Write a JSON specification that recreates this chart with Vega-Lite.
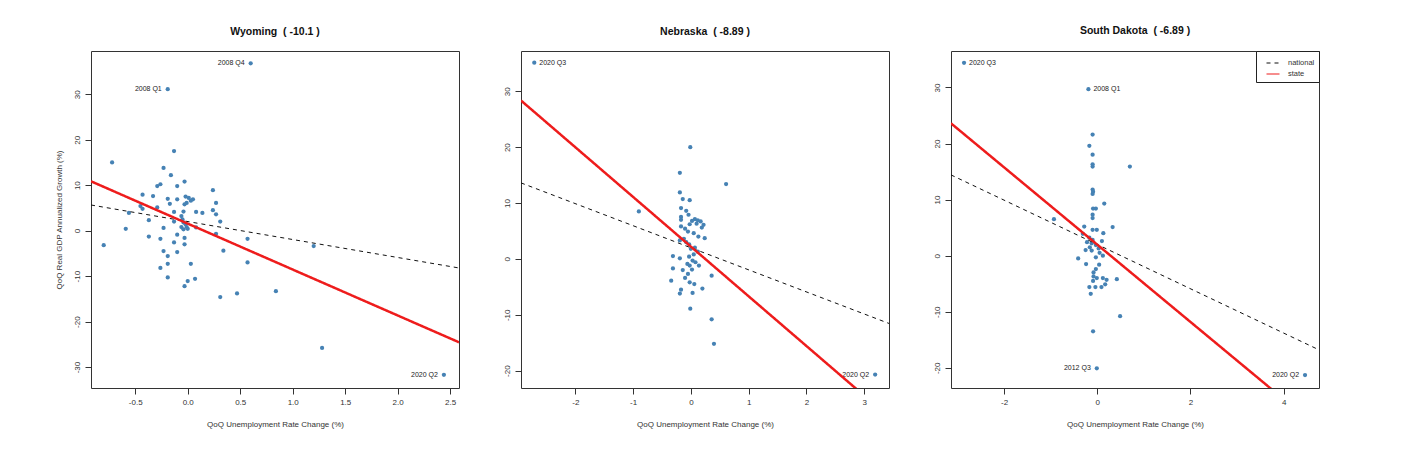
{
  "$schema": "https://vega.github.io/schema/vega-lite/v6.json",
  "description": "QoQ real GDP growth vs QoQ unemployment rate change, three states, with national and state fit lines.",
  "padding": {"left": 54, "top": 25, "right": 5, "bottom": 5},
  "bounds": "flush",
  "spacing": 62,
  "datasets": {
    "points": [
      {"state": "Wyoming", "x": 0.60, "y": 36.8, "label": "2008 Q4"},
      {"state": "Wyoming", "x": -0.19, "y": 31.1, "label": "2008 Q1"},
      {"state": "Wyoming", "x": 2.44, "y": -31.7, "label": "2020 Q2"},
      {"state": "Wyoming", "x": 1.28, "y": -25.8},
      {"state": "Wyoming", "x": 1.20, "y": -3.4},
      {"state": "Wyoming", "x": -0.13, "y": 17.5},
      {"state": "Wyoming", "x": -0.72, "y": 15.0},
      {"state": "Wyoming", "x": -0.23, "y": 13.8},
      {"state": "Wyoming", "x": -0.16, "y": 12.2},
      {"state": "Wyoming", "x": -0.26, "y": 10.2},
      {"state": "Wyoming", "x": -0.29, "y": 9.8},
      {"state": "Wyoming", "x": -0.03, "y": 10.8},
      {"state": "Wyoming", "x": -0.10, "y": 9.8},
      {"state": "Wyoming", "x": 0.24, "y": 8.9},
      {"state": "Wyoming", "x": -0.43, "y": 7.9},
      {"state": "Wyoming", "x": -0.33, "y": 7.6},
      {"state": "Wyoming", "x": -0.19, "y": 7.0},
      {"state": "Wyoming", "x": -0.10, "y": 6.9},
      {"state": "Wyoming", "x": -0.02, "y": 7.5},
      {"state": "Wyoming", "x": 0.01, "y": 7.2},
      {"state": "Wyoming", "x": 0.03, "y": 6.6},
      {"state": "Wyoming", "x": -0.01, "y": 6.1},
      {"state": "Wyoming", "x": 0.05, "y": 6.9},
      {"state": "Wyoming", "x": 0.27, "y": 6.1},
      {"state": "Wyoming", "x": -0.45, "y": 5.4},
      {"state": "Wyoming", "x": -0.43, "y": 4.8},
      {"state": "Wyoming", "x": -0.29, "y": 5.1},
      {"state": "Wyoming", "x": -0.17, "y": 5.9},
      {"state": "Wyoming", "x": -0.03, "y": 5.8},
      {"state": "Wyoming", "x": -0.56, "y": 3.9},
      {"state": "Wyoming", "x": -0.13, "y": 4.1},
      {"state": "Wyoming", "x": -0.04, "y": 4.2},
      {"state": "Wyoming", "x": 0.08, "y": 4.1},
      {"state": "Wyoming", "x": 0.14, "y": 3.9},
      {"state": "Wyoming", "x": 0.24, "y": 4.5},
      {"state": "Wyoming", "x": 0.27, "y": 3.6},
      {"state": "Wyoming", "x": 0.31, "y": 2.0},
      {"state": "Wyoming", "x": -0.37, "y": 2.3},
      {"state": "Wyoming", "x": -0.13, "y": 2.0},
      {"state": "Wyoming", "x": -0.06, "y": 3.2},
      {"state": "Wyoming", "x": -0.05, "y": 2.5},
      {"state": "Wyoming", "x": -0.04, "y": 1.8},
      {"state": "Wyoming", "x": -0.02, "y": 1.4},
      {"state": "Wyoming", "x": -0.01, "y": 0.8},
      {"state": "Wyoming", "x": -0.06, "y": 0.8},
      {"state": "Wyoming", "x": -0.04, "y": 0.3},
      {"state": "Wyoming", "x": 0.00, "y": 0.4},
      {"state": "Wyoming", "x": 0.08, "y": 0.7},
      {"state": "Wyoming", "x": -0.59, "y": 0.4},
      {"state": "Wyoming", "x": -0.80, "y": -3.2},
      {"state": "Wyoming", "x": -0.23, "y": 0.6},
      {"state": "Wyoming", "x": -0.37, "y": -1.3},
      {"state": "Wyoming", "x": -0.26, "y": -1.8},
      {"state": "Wyoming", "x": -0.10, "y": -0.9},
      {"state": "Wyoming", "x": -0.03, "y": -1.6},
      {"state": "Wyoming", "x": -0.13, "y": -2.6},
      {"state": "Wyoming", "x": -0.03, "y": -3.0},
      {"state": "Wyoming", "x": 0.27, "y": -0.7},
      {"state": "Wyoming", "x": 0.57, "y": -1.8},
      {"state": "Wyoming", "x": -0.23, "y": -4.5},
      {"state": "Wyoming", "x": -0.10, "y": -4.7},
      {"state": "Wyoming", "x": 0.34, "y": -4.4},
      {"state": "Wyoming", "x": -0.19, "y": -5.6},
      {"state": "Wyoming", "x": -0.19, "y": -7.3},
      {"state": "Wyoming", "x": 0.03, "y": -7.3},
      {"state": "Wyoming", "x": 0.57, "y": -7.0},
      {"state": "Wyoming", "x": -0.26, "y": -8.2},
      {"state": "Wyoming", "x": -0.19, "y": -10.3},
      {"state": "Wyoming", "x": 0.00, "y": -11.1},
      {"state": "Wyoming", "x": 0.07, "y": -10.6},
      {"state": "Wyoming", "x": -0.03, "y": -12.2},
      {"state": "Wyoming", "x": 0.31, "y": -14.6},
      {"state": "Wyoming", "x": 0.47, "y": -13.8},
      {"state": "Wyoming", "x": 0.84, "y": -13.3},
      {"state": "Nebraska", "x": -2.71, "y": 35.1, "label": "2020 Q3"},
      {"state": "Nebraska", "x": 3.19, "y": -20.7, "label": "2020 Q2"},
      {"state": "Nebraska", "x": -0.01, "y": 20.0},
      {"state": "Nebraska", "x": -0.19, "y": 15.4},
      {"state": "Nebraska", "x": 0.61, "y": 13.4},
      {"state": "Nebraska", "x": -0.19, "y": 11.9},
      {"state": "Nebraska", "x": -0.14, "y": 10.7},
      {"state": "Nebraska", "x": -0.02, "y": 10.5},
      {"state": "Nebraska", "x": -0.90, "y": 8.5},
      {"state": "Nebraska", "x": -0.17, "y": 9.1},
      {"state": "Nebraska", "x": -0.08, "y": 8.6},
      {"state": "Nebraska", "x": -0.04, "y": 7.9},
      {"state": "Nebraska", "x": -0.17, "y": 7.5},
      {"state": "Nebraska", "x": -0.17, "y": 7.0},
      {"state": "Nebraska", "x": 0.02, "y": 6.8},
      {"state": "Nebraska", "x": 0.07, "y": 7.1},
      {"state": "Nebraska", "x": 0.12, "y": 6.9},
      {"state": "Nebraska", "x": 0.17, "y": 6.7},
      {"state": "Nebraska", "x": 0.22, "y": 6.1},
      {"state": "Nebraska", "x": 0.19, "y": 5.6},
      {"state": "Nebraska", "x": 0.10, "y": 6.3},
      {"state": "Nebraska", "x": -0.02, "y": 6.2},
      {"state": "Nebraska", "x": -0.17, "y": 5.8},
      {"state": "Nebraska", "x": -0.10, "y": 5.4},
      {"state": "Nebraska", "x": -0.05, "y": 4.9},
      {"state": "Nebraska", "x": 0.05, "y": 4.6},
      {"state": "Nebraska", "x": 0.13, "y": 4.0},
      {"state": "Nebraska", "x": 0.24, "y": 3.7},
      {"state": "Nebraska", "x": -0.12, "y": 3.6},
      {"state": "Nebraska", "x": -0.19, "y": 3.3},
      {"state": "Nebraska", "x": -0.08, "y": 3.0},
      {"state": "Nebraska", "x": -0.03, "y": 2.6},
      {"state": "Nebraska", "x": 0.00, "y": 1.8},
      {"state": "Nebraska", "x": 0.07, "y": 2.0},
      {"state": "Nebraska", "x": 0.12, "y": 1.3},
      {"state": "Nebraska", "x": 0.05, "y": 0.8},
      {"state": "Nebraska", "x": -0.31, "y": 0.5},
      {"state": "Nebraska", "x": -0.19, "y": 0.1},
      {"state": "Nebraska", "x": -0.03, "y": 0.4},
      {"state": "Nebraska", "x": 0.03, "y": -0.3},
      {"state": "Nebraska", "x": 0.08, "y": -0.6},
      {"state": "Nebraska", "x": -0.06, "y": -0.9},
      {"state": "Nebraska", "x": -0.02, "y": -1.2},
      {"state": "Nebraska", "x": 0.14, "y": -1.2},
      {"state": "Nebraska", "x": -0.31, "y": -1.7},
      {"state": "Nebraska", "x": -0.14, "y": -2.0},
      {"state": "Nebraska", "x": 0.02, "y": -1.9},
      {"state": "Nebraska", "x": -0.05, "y": -2.7},
      {"state": "Nebraska", "x": 0.36, "y": -3.0},
      {"state": "Nebraska", "x": -0.10, "y": -3.4},
      {"state": "Nebraska", "x": -0.34, "y": -3.9},
      {"state": "Nebraska", "x": -0.02, "y": -4.2},
      {"state": "Nebraska", "x": 0.06, "y": -4.5},
      {"state": "Nebraska", "x": 0.20, "y": -5.3},
      {"state": "Nebraska", "x": -0.17, "y": -5.5},
      {"state": "Nebraska", "x": -0.19, "y": -6.2},
      {"state": "Nebraska", "x": 0.03, "y": -6.1},
      {"state": "Nebraska", "x": -0.01, "y": -8.9},
      {"state": "Nebraska", "x": 0.36, "y": -10.8},
      {"state": "Nebraska", "x": 0.40, "y": -15.2},
      {"state": "South Dakota", "x": -2.86, "y": 34.4, "label": "2020 Q3"},
      {"state": "South Dakota", "x": -0.19, "y": 29.7, "label": "2008 Q1"},
      {"state": "South Dakota", "x": -0.01, "y": -20.1, "label": "2012 Q3"},
      {"state": "South Dakota", "x": 4.46, "y": -21.3, "label": "2020 Q2"},
      {"state": "South Dakota", "x": -0.10, "y": 21.6},
      {"state": "South Dakota", "x": -0.17, "y": 19.6},
      {"state": "South Dakota", "x": -0.10, "y": 18.0},
      {"state": "South Dakota", "x": -0.10, "y": 16.3},
      {"state": "South Dakota", "x": -0.10, "y": 15.9},
      {"state": "South Dakota", "x": 0.70, "y": 15.9},
      {"state": "South Dakota", "x": -0.10, "y": 11.8},
      {"state": "South Dakota", "x": -0.09, "y": 11.4},
      {"state": "South Dakota", "x": -0.10, "y": 11.0},
      {"state": "South Dakota", "x": 0.15, "y": 9.3},
      {"state": "South Dakota", "x": -0.09, "y": 8.4},
      {"state": "South Dakota", "x": -0.03, "y": 8.4},
      {"state": "South Dakota", "x": -0.10, "y": 7.3},
      {"state": "South Dakota", "x": -0.10, "y": 6.7},
      {"state": "South Dakota", "x": -0.93, "y": 6.5},
      {"state": "South Dakota", "x": -0.28, "y": 5.2},
      {"state": "South Dakota", "x": 0.33, "y": 5.1},
      {"state": "South Dakota", "x": -0.10, "y": 4.6},
      {"state": "South Dakota", "x": -0.01, "y": 4.6},
      {"state": "South Dakota", "x": -0.31, "y": 3.9},
      {"state": "South Dakota", "x": 0.13, "y": 4.0},
      {"state": "South Dakota", "x": -0.17, "y": 3.2},
      {"state": "South Dakota", "x": -0.10, "y": 2.8},
      {"state": "South Dakota", "x": -0.22, "y": 2.4},
      {"state": "South Dakota", "x": -0.12, "y": 2.2},
      {"state": "South Dakota", "x": -0.03, "y": 1.9},
      {"state": "South Dakota", "x": 0.03, "y": 1.3},
      {"state": "South Dakota", "x": 0.10, "y": 2.6},
      {"state": "South Dakota", "x": -0.16, "y": 1.5},
      {"state": "South Dakota", "x": -0.25, "y": 1.0},
      {"state": "South Dakota", "x": -0.12, "y": 0.9},
      {"state": "South Dakota", "x": 0.05, "y": 0.5},
      {"state": "South Dakota", "x": -0.41, "y": -0.5},
      {"state": "South Dakota", "x": -0.03, "y": -0.3},
      {"state": "South Dakota", "x": 0.12, "y": 0.0},
      {"state": "South Dakota", "x": -0.24, "y": -1.5},
      {"state": "South Dakota", "x": 0.04, "y": -1.6},
      {"state": "South Dakota", "x": -0.03, "y": -2.4},
      {"state": "South Dakota", "x": -0.08, "y": -3.0},
      {"state": "South Dakota", "x": -0.08, "y": -3.7},
      {"state": "South Dakota", "x": -0.01, "y": -4.0},
      {"state": "South Dakota", "x": -0.09, "y": -4.5},
      {"state": "South Dakota", "x": 0.12, "y": -4.0},
      {"state": "South Dakota", "x": 0.20, "y": -4.3},
      {"state": "South Dakota", "x": 0.42, "y": -4.2},
      {"state": "South Dakota", "x": -0.17, "y": -5.6},
      {"state": "South Dakota", "x": -0.04, "y": -5.6},
      {"state": "South Dakota", "x": 0.09, "y": -5.6},
      {"state": "South Dakota", "x": 0.17, "y": -5.1},
      {"state": "South Dakota", "x": -0.14, "y": -6.8},
      {"state": "South Dakota", "x": 0.49, "y": -10.8},
      {"state": "South Dakota", "x": -0.09, "y": -13.5}
    ],
    "fits": [
      {"state": "Wyoming", "series": "national", "x": -0.921, "y": 5.64},
      {"state": "Wyoming", "series": "national", "x": 2.584, "y": -8.21},
      {"state": "Wyoming", "series": "state", "x": -0.921, "y": 10.85},
      {"state": "Wyoming", "series": "state", "x": 2.584, "y": -24.55},
      {"state": "Nebraska", "series": "national", "x": -2.94, "y": 13.6},
      {"state": "Nebraska", "series": "national", "x": 3.43, "y": -11.55},
      {"state": "Nebraska", "series": "state", "x": -2.94, "y": 28.34},
      {"state": "Nebraska", "series": "state", "x": 3.43, "y": -28.29},
      {"state": "South Dakota", "series": "national", "x": -3.14, "y": 14.4},
      {"state": "South Dakota", "series": "national", "x": 4.76, "y": -16.8},
      {"state": "South Dakota", "series": "state", "x": -3.14, "y": 23.6},
      {"state": "South Dakota", "series": "state", "x": 4.76, "y": -30.83}
    ]
  },
  "hconcat": [
    {
      "width": 368,
      "height": 337,
      "title": "Wyoming \u00a0( -10.1 )",
      "encoding": {
        "x": {"field": "x", "type": "quantitative", "scale": {"domain": [-0.921, 2.584], "nice": false, "zero": false},
              "axis": {"values": [-0.5, 0, 0.5, 1, 1.5, 2, 2.5], "format": ".1f", "title": "QoQ Unemployment Rate Change (%)"}},
        "y": {"field": "y", "type": "quantitative", "scale": {"domain": [-34.6, 39.5], "nice": false, "zero": false},
              "axis": {"values": [-30, -20, -10, 0, 10, 20, 30], "title": "QoQ Real GDP Annualized Growth (%)"}}
      },
      "layer": [
        {
          "data": {"name": "points"},
          "transform": [{"filter": "datum.state == 'Wyoming'"}],
          "mark": {"type": "point", "filled": true, "size": 18, "color": "#4682b4", "opacity": 1}
        },
        {
          "data": {"name": "points"},
          "transform": [{"filter": "datum.state == 'Wyoming' && datum.label"}],
          "mark": {"type": "text", "align": "right", "baseline": "middle", "dx": -6, "fontSize": 7, "color": "#222"},
          "encoding": {"text": {"field": "label"}}
        },
        {
          "data": {"name": "fits"},
          "transform": [{"filter": "datum.state == 'Wyoming'"}],
          "mark": {"type": "line", "clip": true},
          "encoding": {
            "color": {"field": "series", "type": "nominal", "scale": {"domain": ["national", "state"], "range": ["#111111", "#ee1c1c"]}, "legend": null},
            "strokeDash": {"field": "series", "type": "nominal", "scale": {"domain": ["national", "state"], "range": [[4, 4], [1, 0]]}, "legend": null},
            "strokeWidth": {"condition": {"test": "datum.series == 'state'", "value": 2.5}, "value": 1}
          }
        }
      ]
    },
    {
      "width": 368,
      "height": 337,
      "title": "Nebraska \u00a0( -8.89 )",
      "encoding": {
        "x": {"field": "x", "type": "quantitative", "scale": {"domain": [-2.94, 3.43], "nice": false, "zero": false},
              "axis": {"values": [-2, -1, 0, 1, 2, 3], "format": "d", "title": "QoQ Unemployment Rate Change (%)"}},
        "y": {"field": "y", "type": "quantitative", "scale": {"domain": [-23.1, 37.2], "nice": false, "zero": false},
              "axis": {"values": [-20, -10, 0, 10, 20, 30], "title": null}}
      },
      "layer": [
        {
          "data": {"name": "points"},
          "transform": [{"filter": "datum.state == 'Nebraska'"}],
          "mark": {"type": "point", "filled": true, "size": 18, "color": "#4682b4", "opacity": 1}
        },
        {
          "data": {"name": "points"},
          "transform": [{"filter": "datum.state == 'Nebraska' && datum.label == '2020 Q2'"}],
          "mark": {"type": "text", "align": "right", "baseline": "middle", "dx": -6, "fontSize": 7, "color": "#222"},
          "encoding": {"text": {"field": "label"}}
        },
        {
          "data": {"name": "points"},
          "transform": [{"filter": "datum.state == 'Nebraska' && datum.label == '2020 Q3'"}],
          "mark": {"type": "text", "align": "left", "baseline": "middle", "dx": 5, "fontSize": 7, "color": "#222"},
          "encoding": {"text": {"field": "label"}}
        },
        {
          "data": {"name": "fits"},
          "transform": [{"filter": "datum.state == 'Nebraska'"}],
          "mark": {"type": "line", "clip": true},
          "encoding": {
            "color": {"field": "series", "type": "nominal", "scale": {"domain": ["national", "state"], "range": ["#111111", "#ee1c1c"]}, "legend": null},
            "strokeDash": {"field": "series", "type": "nominal", "scale": {"domain": ["national", "state"], "range": [[4, 4], [1, 0]]}, "legend": null},
            "strokeWidth": {"condition": {"test": "datum.series == 'state'", "value": 2.5}, "value": 1}
          }
        }
      ]
    },
    {
      "width": 368,
      "height": 337,
      "title": "South Dakota \u00a0( -6.89 )",
      "encoding": {
        "x": {"field": "x", "type": "quantitative", "scale": {"domain": [-3.14, 4.76], "nice": false, "zero": false},
              "axis": {"values": [-2, 0, 2, 4], "format": "d", "title": "QoQ Unemployment Rate Change (%)"}},
        "y": {"field": "y", "type": "quantitative", "scale": {"domain": [-23.6, 36.5], "nice": false, "zero": false},
              "axis": {"values": [-20, -10, 0, 10, 20, 30], "title": null}}
      },
      "layer": [
        {
          "data": {"name": "points"},
          "transform": [{"filter": "datum.state == 'South Dakota'"}],
          "mark": {"type": "point", "filled": true, "size": 18, "color": "#4682b4", "opacity": 1}
        },
        {
          "data": {"name": "points"},
          "transform": [{"filter": "datum.state == 'South Dakota' && (datum.label == '2012 Q3' || datum.label == '2020 Q2')"}],
          "mark": {"type": "text", "align": "right", "baseline": "middle", "dx": -6, "fontSize": 7, "color": "#222"},
          "encoding": {"text": {"field": "label"}}
        },
        {
          "data": {"name": "points"},
          "transform": [{"filter": "datum.state == 'South Dakota' && (datum.label == '2020 Q3' || datum.label == '2008 Q1')"}],
          "mark": {"type": "text", "align": "left", "baseline": "middle", "dx": 5, "fontSize": 7, "color": "#222"},
          "encoding": {"text": {"field": "label"}}
        },
        {
          "data": {"name": "fits"},
          "transform": [{"filter": "datum.state == 'South Dakota'"}],
          "mark": {"type": "line", "clip": true},
          "encoding": {
            "color": {"field": "series", "type": "nominal", "title": null, "scale": {"domain": ["national", "state"], "range": ["#111111", "#ee1c1c"]}},
            "strokeDash": {"field": "series", "type": "nominal", "title": null, "scale": {"domain": ["national", "state"], "range": [[4, 4], [1, 0]]}},
            "strokeWidth": {"condition": {"test": "datum.series == 'state'", "value": 2.5}, "value": 1}
          }
        }
      ]
    }
  ],
  "resolve": {"scale": {"color": "independent", "strokeDash": "independent"}},
  "config": {
    "font": "Liberation Sans",
    "view": {"stroke": "#333333", "strokeWidth": 1},
    "locale": {"number": {"decimal": ".", "thousands": ",", "grouping": [3], "currency": ["$", ""], "minus": "-"}},
    "axis": {
      "grid": false, "domain": false, "tickColor": "#333333", "tickSize": 6,
      "labelFontSize": 8, "labelColor": "#333333", "labelPadding": 4, "labelFlush": false, "labelOverlap": false,
      "titleFontSize": 8, "titleFontWeight": "normal", "titleColor": "#333333", "titlePadding": 14
    },
    "axisY": {"labelAngle": -90, "titlePadding": 10},
    "title": {"fontSize": 10.5, "fontWeight": "bold", "color": "#111111", "offset": 14},
    "legend": {
      "orient": "top-right", "offset": 0, "strokeColor": "#222222", "fillColor": "white", "padding": 4.5,
      "labelFontSize": 7.5, "labelColor": "#333333", "labelOffset": 7.5, "symbolType": "stroke", "symbolSize": 169,
      "symbolOffset": 5, "symbolStrokeWidth": 1.2, "rowPadding": -3
    }
  }
}
